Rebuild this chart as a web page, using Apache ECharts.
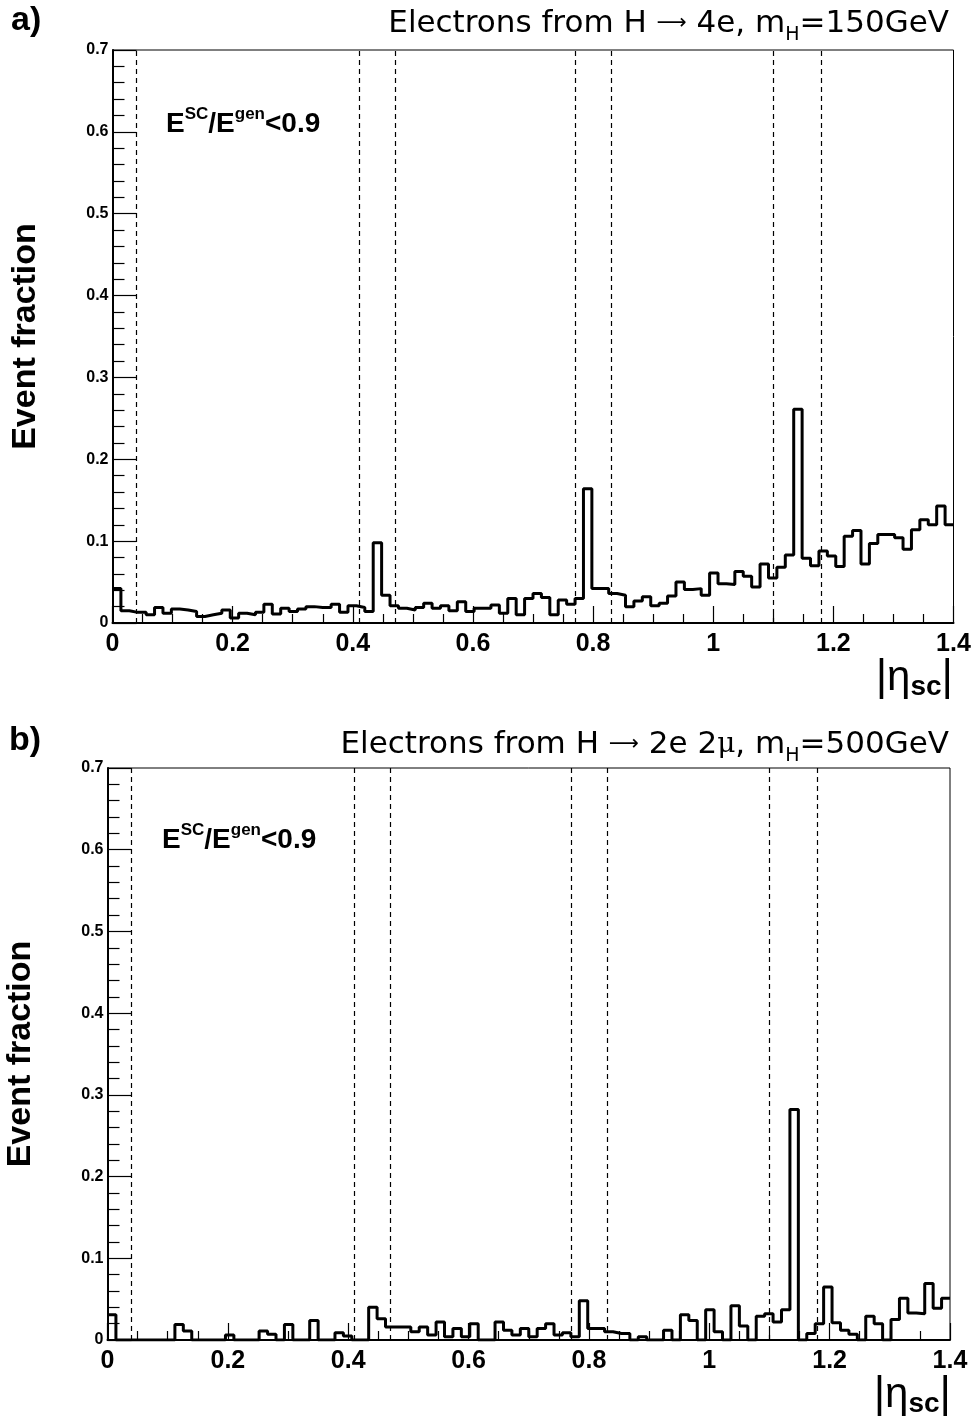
<!DOCTYPE html>
<html>
<head>
<meta charset="utf-8">
<script src="https://cdn.jsdelivr.net/npm/echarts@6/dist/echarts.min.js"></script>
<style>
  html, body { margin: 0; padding: 0; background: #fff; }
  #chart { width: 973px; height: 1421px; }
</style>
</head>
<body>
<div id="chart"></div>
<script>
const FONT = '"Liberation Sans", Arial, Helvetica, sans-serif';
const TITLE_FONT = '"DejaVu Sans", "Liberation Sans", sans-serif';

// Histogram binning in |eta_SC|: 100 bins from 0 to 1.4
const BIN_WIDTH = 0.014;
const ETA_MAX = 1.4;

const X_TICK_LABELS = ['0', '0.2', '0.4', '0.6', '0.8', '1', '1.2', '1.4'];
const Y_TICK_LABELS = ['0', '0.1', '0.2', '0.3', '0.4', '0.5', '0.6', '0.7'];

// ECAL module / crack boundaries (dashed lines)
const BOUNDARIES = [0.04, 0.412, 0.472, 0.765, 0.833, 1.102, 1.184];

// a) electrons from H -> 4e, mH = 150 GeV : fraction with E_SC/E_gen < 0.9
const FRACTION_4E = [
  0.042, 0.015, 0.013, 0.013, 0.010, 0.019, 0.012, 0.017, 0.016, 0.014,
  0.008, 0.010, 0.012, 0.016, 0.006, 0.012, 0.010, 0.013, 0.023, 0.011,
  0.018, 0.014, 0.017, 0.020, 0.019, 0.019, 0.023, 0.013, 0.021, 0.019,
  0.014, 0.098, 0.034, 0.021, 0.018, 0.016, 0.019, 0.024, 0.018, 0.021,
  0.015, 0.026, 0.014, 0.018, 0.018, 0.022, 0.012, 0.030, 0.010, 0.030,
  0.036, 0.031, 0.010, 0.028, 0.023, 0.030, 0.164, 0.042, 0.042, 0.036,
  0.034, 0.020, 0.027, 0.032, 0.021, 0.024, 0.033, 0.050, 0.041, 0.042,
  0.034, 0.061, 0.048, 0.047, 0.063, 0.057, 0.044, 0.072, 0.055, 0.068,
  0.083, 0.261, 0.079, 0.070, 0.088, 0.082, 0.069, 0.106, 0.113, 0.072,
  0.097, 0.108, 0.108, 0.104, 0.090, 0.114, 0.126, 0.120, 0.143, 0.120
];

// b) electrons from H -> 2e2mu, mH = 500 GeV
const FRACTION_2E2MU = [
  0.031, 0.000, 0.000, 0.000, 0.000, 0.000, 0.000, 0.000, 0.019, 0.011,
  0.000, 0.000, 0.000, 0.000, 0.006, 0.000, 0.000, 0.000, 0.011, 0.007,
  0.000, 0.019, 0.000, 0.000, 0.024, 0.000, 0.000, 0.009, 0.005, 0.000,
  0.000, 0.040, 0.026, 0.016, 0.016, 0.016, 0.010, 0.016, 0.006, 0.022,
  0.004, 0.014, 0.004, 0.020, 0.000, 0.000, 0.022, 0.012, 0.006, 0.014,
  0.004, 0.014, 0.020, 0.006, 0.009, 0.004, 0.048, 0.014, 0.014, 0.010,
  0.008, 0.008, 0.000, 0.004, 0.000, 0.000, 0.012, 0.000, 0.031, 0.024,
  0.000, 0.037, 0.010, 0.000, 0.042, 0.017, 0.000, 0.029, 0.032, 0.022,
  0.037, 0.282, 0.000, 0.008, 0.020, 0.065, 0.021, 0.012, 0.007, 0.000,
  0.029, 0.020, 0.000, 0.025, 0.051, 0.033, 0.032, 0.069, 0.039, 0.051
];

// Step outline of a histogram: one point per lower bin edge, plus the upper edge
function histOutline(values) {
  const pts = values.map((v, i) => [+(i * BIN_WIDTH).toFixed(4), v]);
  pts.push([ETA_MAX, values[values.length - 1]]);
  return pts;
}

const grids = [
  { left: 112.5, width: 841, top: 50, height: 573 },
  { left: 107.5, width: 842.5, top: 768, height: 572 }
];

function makeXAxis(gridIndex) {
  return {
    type: 'value', gridIndex, min: 0, max: ETA_MAX, interval: 0.2,
    axisLine: { show: true, lineStyle: { color: '#000', width: 2 } },
    axisTick: { show: true, inside: true, length: 17, lineStyle: { color: '#000', width: 1.2 } },
    minorTick: { show: true, splitNumber: 4, length: 9, lineStyle: { color: '#000', width: 1.2 } },
    splitLine: { show: false },
    axisLabel: {
      margin: 9, color: '#000', fontFamily: FONT, fontWeight: 'bold', fontSize: 25,
      formatter: v => X_TICK_LABELS[Math.round(v / 0.2)]
    }
  };
}

function makeYAxis(gridIndex) {
  return {
    type: 'value', gridIndex, min: 0, max: 0.7, interval: 0.1,
    name: 'Event fraction', nameLocation: 'middle', nameRotate: 90, nameGap: 70,
    nameTextStyle: { color: '#000', fontFamily: FONT, fontWeight: 'bold', fontSize: 34 },
    axisLine: { show: true, lineStyle: { color: '#000', width: 2 } },
    axisTick: { show: true, inside: true, length: 24, lineStyle: { color: '#000', width: 1.2 } },
    minorTick: { show: true, splitNumber: 5, length: 12, lineStyle: { color: '#000', width: 1.2 } },
    splitLine: { show: false },
    axisLabel: {
      margin: 4, color: '#000', fontFamily: FONT, fontWeight: 'bold', fontSize: 16,
      formatter: v => Y_TICK_LABELS[Math.round(v / 0.1)]
    }
  };
}

function makeSeries(values, idx) {
  return {
    type: 'line', xAxisIndex: idx, yAxisIndex: idx,
    data: histOutline(values), step: 'end', symbol: 'none', silent: true,
    lineStyle: { color: '#000', width: 3 },
    markLine: {
      silent: true, symbol: 'none', label: { show: false },
      lineStyle: { color: '#000', width: 1.2, type: [5, 4] },
      data: BOUNDARIES.map(b => ({ xAxis: b }))
    },
    z: 3
  };
}

const titleRich = {
  t: { fontFamily: TITLE_FONT, fontSize: 31, lineHeight: 42, color: '#000' },
  ar: { fontFamily: TITLE_FONT, fontSize: 21, lineHeight: 42, color: '#000' },
  g: { fontFamily: '"DejaVu Serif", serif', fontSize: 28, lineHeight: 42, color: '#000' },
  s: { fontFamily: TITLE_FONT, fontSize: 19, lineHeight: 19, verticalAlign: 'bottom', color: '#000' }
};

const cutRich = {
  b: { fontFamily: FONT, fontWeight: 'bold', fontSize: 28, lineHeight: 36, color: '#000' },
  sup: { fontFamily: FONT, fontWeight: 'bold', fontSize: 17, lineHeight: 17, verticalAlign: 'top', color: '#000' }
};

const etaRich = {
  bar: { fontFamily: FONT, fontSize: 44, lineHeight: 46, color: '#000' },
  eta: { fontFamily: FONT, fontSize: 42, lineHeight: 46, color: '#000' },
  sc: { fontFamily: FONT, fontWeight: 'bold', fontSize: 28, lineHeight: 30, verticalAlign: 'bottom', color: '#000' }
};

const labelRich = { p: { fontFamily: FONT, fontWeight: 'bold', fontSize: 34, color: '#000' } };

function textEl(opts, text, rich) {
  return Object.assign({ type: 'text', z: 10, style: { text, rich, fill: '#000' } }, opts);
}

const graphic = [
  textEl({ left: 11, top: 4 }, '{p|a)}', labelRich),
  textEl({ right: 24, top: 8 }, '{t|Electrons from H }{ar|⟶}{t| 4e, m}{s|H}{t|=150GeV}', titleRich),
  textEl({ left: 166, top: 106 }, '{b|E}{sup|SC}{b|/E}{sup|gen}{b|<0.9}', cutRich),
  textEl({ right: 20, top: 656 }, '{bar||}{eta|η}{sc|sc}{bar||}', etaRich),

  textEl({ left: 9, top: 724 }, '{p|b)}', labelRich),
  textEl({ right: 24, top: 729 }, '{t|Electrons from H }{ar|⟶}{t| 2e 2}{g|μ}{t|, m}{s|H}{t|=500GeV}', titleRich),
  textEl({ left: 162, top: 822 }, '{b|E}{sup|SC}{b|/E}{sup|gen}{b|<0.9}', cutRich),
  textEl({ right: 22, top: 1373 }, '{bar||}{eta|η}{sc|sc}{bar||}', etaRich)
];

const chart = echarts.init(document.getElementById('chart'), null, { renderer: 'canvas' });
chart.setOption({
  animation: false,
  backgroundColor: '#fff',
  grid: grids.map(g => Object.assign({
    show: true, borderColor: '#000', borderWidth: 1, backgroundColor: 'transparent',
    outerBoundsMode: 'none', containLabel: false
  }, g)),
  xAxis: [makeXAxis(0), makeXAxis(1)],
  yAxis: [makeYAxis(0), makeYAxis(1)],
  series: [makeSeries(FRACTION_4E, 0), makeSeries(FRACTION_2E2MU, 1)],
  graphic
});
</script>
</body>
</html>
